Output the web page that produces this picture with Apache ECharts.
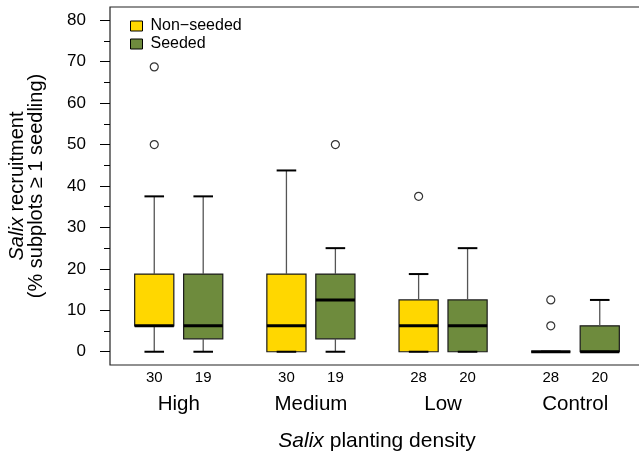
<!DOCTYPE html>
<html>
<head>
<meta charset="utf-8">
<script src="https://cdn.jsdelivr.net/npm/echarts@6/dist/echarts.min.js"></script>
<style>
html, body { margin: 0; padding: 0; background: #fff; }
#chart { width: 639px; height: 458px; }
</style>
</head>
<body>
<div id="chart"></div>
<script>
// ---------------- data ----------------
const groups = ['High', 'Medium', 'Low', 'Control'];
const seriesNames = ['Non\u2212seeded', 'Seeded'];
// five-number summaries [min, Q1, median, Q3, max] per planting density
const nonSeededStats = [
  [0, 6.25, 6.25, 18.75, 37.5],
  [0, 0, 6.25, 18.75, 43.75],
  [0, 0, 6.25, 12.5, 18.75],
  [0, 0, 0, 0, 0]
];
const seededStats = [
  [0, 3.125, 6.25, 18.75, 37.5],
  [0, 3.125, 12.5, 18.75, 25],
  [0, 0, 6.25, 12.5, 25],
  [0, 0, 0, 6.25, 12.5]
];
const nonSeededN = [30, 30, 28, 28];
const seededN = [19, 19, 20, 20];
// outliers: [group index, value]
const nonSeededOutliers = [[0, 50], [0, 68.75], [2, 37.5], [3, 6.25], [3, 12.5]];
const seededOutliers = [[1, 50]];
const yTicks = [0, 10, 20, 30, 40, 50, 60, 70, 80];
const yMinorTicks = [5, 15, 25, 35, 45, 55, 65, 75];

// ---------------- layout (axis units, like R's `at`) ----------------
const FIRST_AT = 1, GROUP_STEP = 2.7, BOX_W = 0.8, STAPLE = 0.5;
const X_MIN = 0.096, X_MAX = 11.004, Y_MIN = -3.2, Y_MAX = 83.2;
const COLORS = ['#FFD700', '#6E8B3D'];
const FONT = '"Liberation Sans", Arial, Helvetica, sans-serif';

function at(g, s) { return FIRST_AT + g * GROUP_STEP + s; }

const boxPositions = [];
const boxLabels = [];
groups.forEach((_, g) => {
  boxPositions.push(at(g, 0)); boxLabels.push(String(nonSeededN[g]));
  boxPositions.push(at(g, 1)); boxLabels.push(String(seededN[g]));
});
const groupCenters = groups.map((_, g) => at(g, 0.5));

function findIdx(arr, v) {
  return arr.findIndex(p => Math.abs(p - v) < 1e-6);
}

function makeRender(fill) {
  return function (params, api) {
    const x = api.value(0);
    const vals = [1, 2, 3, 4, 5].map(i => api.value(i));
    const p = vals.map(v => api.coord([x, v]));
    const cx = p[0][0];
    const bw = api.size([BOX_W, 0])[0];
    const sw = bw * STAPLE;
    const children = [
      { type: 'rect', shape: { x: cx - bw / 2, y: p[3][1], width: bw, height: p[1][1] - p[3][1] },
        style: { fill: fill, stroke: '#1a1a1a', lineWidth: 1.2 } },
      { type: 'line', shape: { x1: cx, y1: p[0][1], x2: cx, y2: p[1][1] },
        style: { stroke: '#555', lineWidth: 1.3 } },
      { type: 'line', shape: { x1: cx, y1: p[3][1], x2: cx, y2: p[4][1] },
        style: { stroke: '#555', lineWidth: 1.3 } },
      { type: 'line', shape: { x1: cx - sw / 2, y1: p[0][1], x2: cx + sw / 2, y2: p[0][1] },
        style: { stroke: '#000', lineWidth: 2 } },
      { type: 'line', shape: { x1: cx - sw / 2, y1: p[4][1], x2: cx + sw / 2, y2: p[4][1] },
        style: { stroke: '#000', lineWidth: 2 } },
      { type: 'line', shape: { x1: cx - bw / 2, y1: p[2][1], x2: cx + bw / 2, y2: p[2][1] },
        style: { stroke: '#000', lineWidth: 3 } }
    ];
    return { type: 'group', children: children };
  };
}

const nonSeededData = nonSeededStats.map((st, g) => [at(g, 0)].concat(st));
const seededData = seededStats.map((st, g) => [at(g, 1)].concat(st));
const nonSeededOutData = nonSeededOutliers.map(o => [at(o[0], 0), o[1]]);
const seededOutData = seededOutliers.map(o => [at(o[0], 1), o[1]]);

const chart = echarts.init(document.getElementById('chart'), null, { renderer: 'canvas' });

const outlierStyle = { color: '#fff', borderColor: '#000', borderWidth: 1.2 };

chart.setOption({
  animation: false,
  textStyle: { fontFamily: FONT },
  grid: {
    left: 110, right: -5, top: 7, bottom: 93,
    show: true, borderColor: '#222', borderWidth: 1.2,
    containLabel: false, outerBoundsMode: 'none'
  },
  legend: {
    left: 130, top: 17, orient: 'vertical', padding: 0,
    icon: 'rect', itemWidth: 12, itemHeight: 10, itemGap: 0,
    selectedMode: false,
    textStyle: { fontSize: 16, color: '#000', lineHeight: 18, fontFamily: FONT, padding: [0, 0, 0, 3] },
    data: seriesNames.map((n, i) => ({
      name: n, itemStyle: { color: COLORS[i], borderColor: '#000', borderWidth: 1 }
    }))
  },
  xAxis: [
    {
      type: 'value', min: X_MIN, max: X_MAX, position: 'bottom',
      axisLine: { show: false }, axisTick: { show: false }, splitLine: { show: false },
      axisLabel: {
        customValues: boxPositions, margin: 5, fontSize: 15, color: '#000', fontFamily: FONT,
        formatter: v => { const i = findIdx(boxPositions, v); return i >= 0 ? boxLabels[i] : ''; }
      }
    },
    {
      type: 'value', min: X_MIN, max: X_MAX, position: 'bottom',
      axisLine: { show: false }, axisTick: { show: false }, splitLine: { show: false },
      axisLabel: {
        customValues: groupCenters, margin: 29, fontSize: 20.5, color: '#000', fontFamily: FONT,
        formatter: v => { const i = findIdx(groupCenters, v); return i >= 0 ? groups[i] : ''; }
      },
      name: '{i|Salix} planting density',
      nameLocation: 'middle', nameGap: 66,
      nameTextStyle: {
        fontSize: 21, color: '#000', fontFamily: FONT,
        rich: { i: { fontStyle: 'italic', fontSize: 21, color: '#000', fontFamily: FONT } }
      }
    }
  ],
  yAxis: [
    {
      type: 'value', min: Y_MIN, max: Y_MAX, position: 'left',
      axisLine: { show: false }, splitLine: { show: false },
      axisTick: { show: true, customValues: yTicks, length: 10, lineStyle: { color: '#000', width: 1 } },
      axisLabel: { customValues: yTicks, margin: 24, fontSize: 17, color: '#000', fontFamily: FONT },
      name: '{i|Salix} recruitment\n(% subplots \u2265 1 seedling)',
      nameLocation: 'middle', nameRotate: 90, nameGap: 64,
      nameTextStyle: {
        fontSize: 20, color: '#000', fontFamily: FONT, lineHeight: 19, align: 'center',
        rich: { i: { fontStyle: 'italic', fontSize: 20, color: '#000', fontFamily: FONT, lineHeight: 19 } }
      }
    },
    {
      type: 'value', min: Y_MIN, max: Y_MAX, position: 'left',
      axisLine: { show: false }, splitLine: { show: false },
      axisTick: { show: true, customValues: yMinorTicks, length: 6, lineStyle: { color: '#000', width: 1 } },
      axisLabel: { show: false }
    }
  ],
  series: [
    {
      name: seriesNames[0], type: 'custom', xAxisIndex: 0, yAxisIndex: 0,
      itemStyle: { color: COLORS[0] },
      renderItem: makeRender(COLORS[0]),
      encode: { x: 0, y: [1, 2, 3, 4, 5] },
      data: nonSeededData, silent: true, z: 2
    },
    {
      name: seriesNames[1], type: 'custom', xAxisIndex: 0, yAxisIndex: 0,
      itemStyle: { color: COLORS[1] },
      renderItem: makeRender(COLORS[1]),
      encode: { x: 0, y: [1, 2, 3, 4, 5] },
      data: seededData, silent: true, z: 2
    },
    {
      name: seriesNames[0], type: 'scatter', xAxisIndex: 0, yAxisIndex: 0,
      symbol: 'circle', symbolSize: 8, itemStyle: outlierStyle,
      data: nonSeededOutData, silent: true, z: 3
    },
    {
      name: seriesNames[1], type: 'scatter', xAxisIndex: 0, yAxisIndex: 0,
      symbol: 'circle', symbolSize: 8, itemStyle: outlierStyle,
      data: seededOutData, silent: true, z: 3
    }
  ]
});
</script>
</body>
</html>
